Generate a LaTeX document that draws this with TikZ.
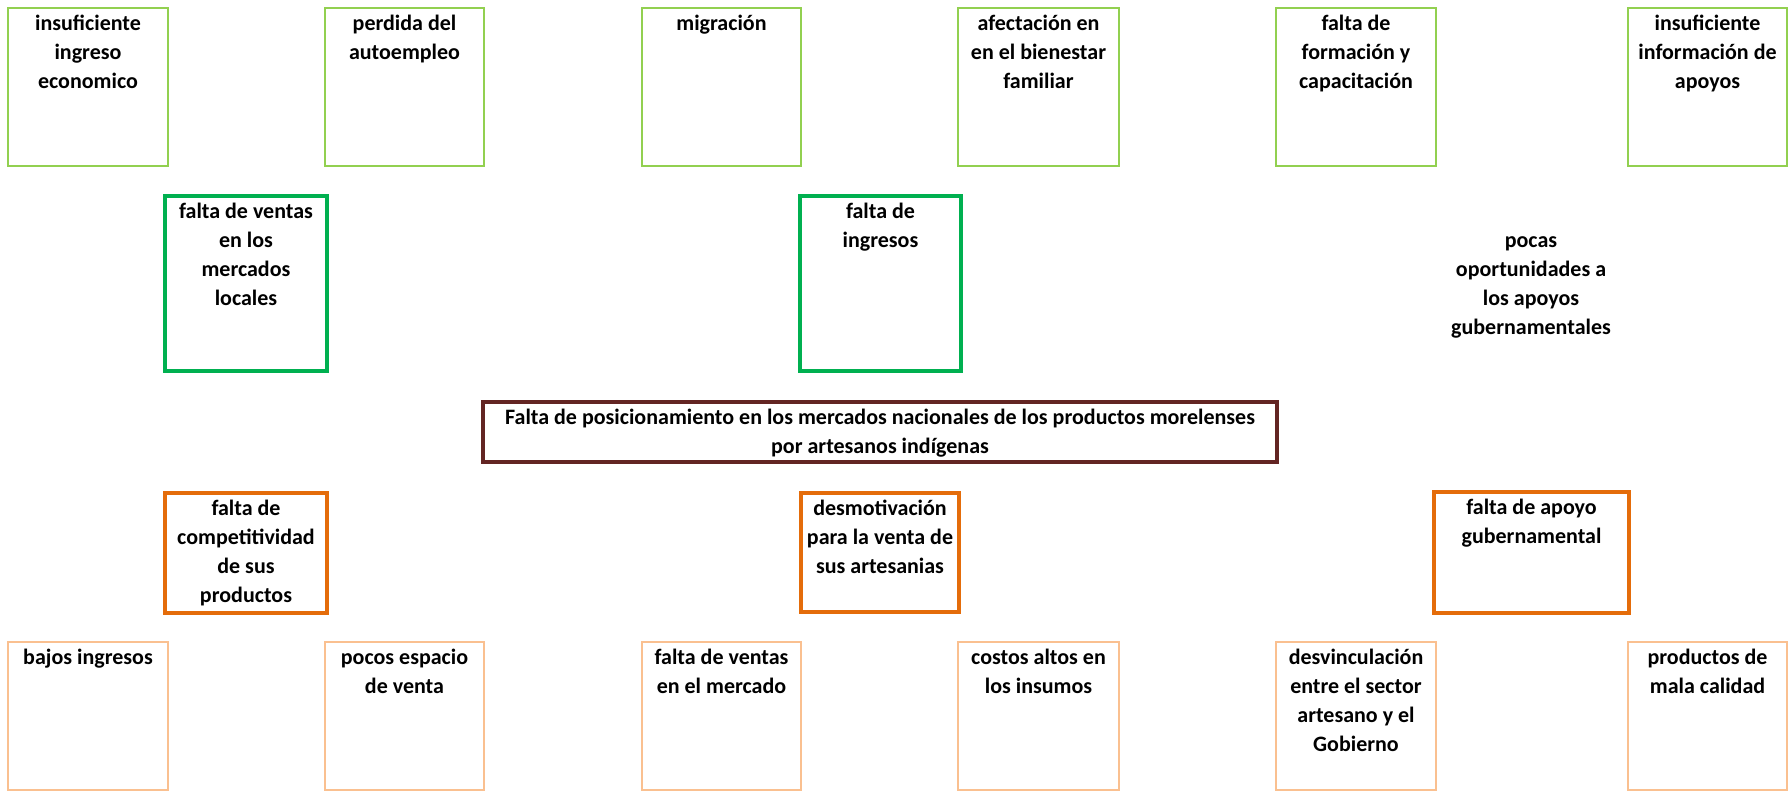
\documentclass[tikz,border=0pt]{standalone}
\usepackage{fontspec}
\setmainfont{Carlito}
\definecolor{lgreen}{HTML}{92D050}
\definecolor{dgreen}{HTML}{00B050}
\definecolor{dorange}{HTML}{E46C0A}
\definecolor{lorange}{HTML}{FAC090}
\definecolor{maroon}{HTML}{632523}
\begin{document}
\begin{tikzpicture}[x=0.5pt,y=-0.5pt,
  box/.style={draw, rectangle, inner sep=0pt, outer sep=0pt},
  effbox/.style={box, draw=lgreen, line width=1pt, minimum height=79pt},
  effmid/.style={box, draw=dgreen, line width=2pt, minimum height=87.5pt},
  causemid/.style={box, draw=dorange, line width=2pt},
  causebox/.style={box, draw=lorange, line width=1pt, minimum height=74pt},
  probbox/.style={box, draw=maroon, line width=2pt, minimum width=397pt, minimum height=30pt},
  txt/.style={anchor=north, inner sep=0pt, align=center, font=\bfseries\fontsize{11}{14.5}\selectfont}]
\useasboundingbox (0,0) rectangle (1788,792);

% top row (effects)
\node[effbox, minimum width=80pt]   (e1) at (88,87) {};
\node[effbox, minimum width=79.5pt] (e2) at (404.5,87) {};
\node[effbox, minimum width=79.5pt] (e3) at (721.5,87) {};
\node[effbox, minimum width=80.5pt] (e4) at (1038.5,87) {};
\node[effbox, minimum width=80pt]   (e5) at (1356,87) {};
\node[effbox, minimum width=79.5pt] (e6) at (1707.5,87) {};
\node[txt] (te1) at ([yshift=-1pt]e1.north) {\strut insuficiente\\ingreso\\economico};
\node[txt] (te2) at ([yshift=-1pt]e2.north) {\strut perdida del\\autoempleo};
\node[txt] (te3) at ([yshift=-1pt]e3.north) {\strut migración};
\node[txt] (te4) at ([yshift=-1pt]e4.north) {\strut afectación en\\en el bienestar\\familiar};
\node[txt] (te5) at ([yshift=-1pt]e5.north) {\strut falta de\\formación y\\capacitación};
\node[txt] (te6) at ([yshift=-1pt]e6.north) {\strut insuficiente\\información de\\apoyos};

% middle effects
\node[effmid, minimum width=81pt]   (m1) at (246,283.5) {};
\node[effmid, minimum width=80.5pt] (m2) at (880.5,283.5) {};
\node[txt] (tm1) at ([yshift=-1pt]m1.north) {\strut falta de ventas\\en los\\mercados\\locales};
\node[txt] (tm2) at ([yshift=-1pt]m2.north) {\strut falta de\\ingresos};
\node[txt] (tm3) at (1531,227) {\strut pocas\\oportunidades a\\los apoyos\\gubernamentales};

% central problem
\node[probbox] (p) at (880,432) {};
\node[txt] (tp) at ([yshift=-1pt]p.north) {\strut Falta de posicionamiento en los mercados nacionales de los productos morelenses\\por artesanos indígenas};

% middle causes
\node[causemid, minimum width=81pt, minimum height=60pt]   (c1) at (246,553) {};
\node[causemid, minimum width=79pt, minimum height=59.5pt] (c2) at (880,552.5) {};
\node[causemid, minimum width=97.5pt, minimum height=60.5pt] (c3) at (1531.5,552.5) {};
\node[txt] (tc1) at ([yshift=-1pt]c1.north) {\strut falta de\\competitividad\\de sus\\productos};
\node[txt] (tc2) at ([yshift=-1pt]c2.north) {\strut desmotivación\\para la venta de\\sus artesanias};
\node[txt] (tc3) at ([yshift=-1pt]c3.north) {\strut falta de apoyo\\gubernamental};

% bottom row (root causes)
\node[causebox, minimum width=80pt]   (r1) at (88,716) {};
\node[causebox, minimum width=79.5pt] (r2) at (404.5,716) {};
\node[causebox, minimum width=79.5pt] (r3) at (721.5,716) {};
\node[causebox, minimum width=80.5pt] (r4) at (1038.5,716) {};
\node[causebox, minimum width=80pt]   (r5) at (1356,716) {};
\node[causebox, minimum width=79.5pt] (r6) at (1707.5,716) {};
\node[txt] (tr1) at ([yshift=-1pt]r1.north) {\strut bajos ingresos};
\node[txt] (tr2) at ([yshift=-1pt]r2.north) {\strut pocos espacio\\de venta};
\node[txt] (tr3) at ([yshift=-1pt]r3.north) {\strut falta de ventas\\en el mercado};
\node[txt] (tr4) at ([yshift=-1pt]r4.north) {\strut costos altos en\\los insumos};
\node[txt] (tr5) at ([yshift=-1pt]r5.north) {\strut desvinculación\\entre el sector\\artesano y el\\Gobierno};
\node[txt] (tr6) at ([yshift=-1pt]r6.north) {\strut productos de\\mala calidad};
\end{tikzpicture}
\end{document}
